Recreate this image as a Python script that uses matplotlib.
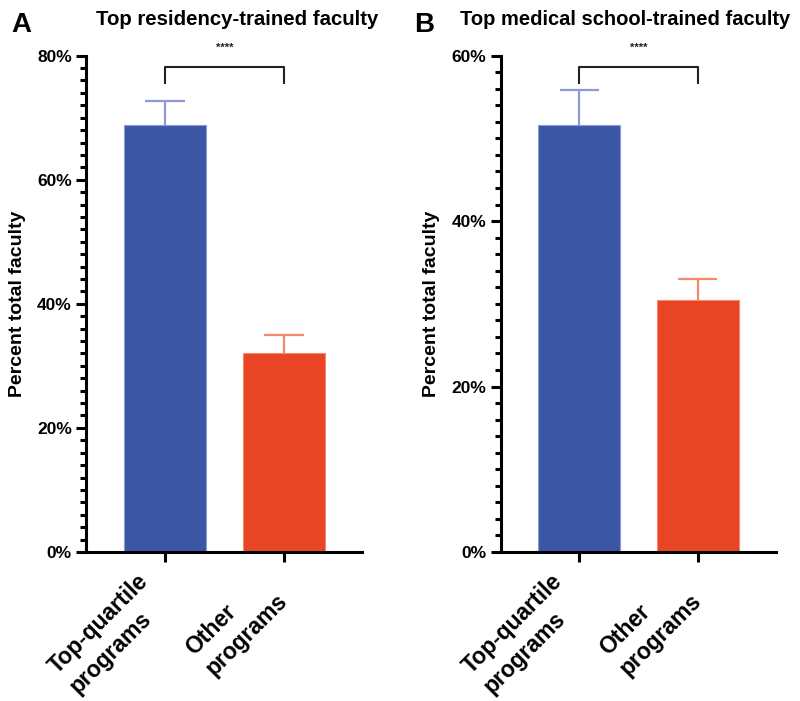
import matplotlib
matplotlib.use("Agg")
import matplotlib.pyplot as plt
import matplotlib.transforms as mtransforms
from matplotlib.ticker import MultipleLocator, FuncFormatter

plt.rcParams['font.family'] = ['Liberation Sans', 'DejaVu Sans']
plt.rcParams['font.weight'] = 'bold'

categories = ["Top-quartile\nprograms", "Other\nprograms"]

# Panel A: top residency-trained faculty
residency_mean = [68.9, 32.1]
residency_sem = [3.8, 2.9]

# Panel B: top medical school-trained faculty
medschool_mean = [51.6, 30.5]
medschool_sem = [4.2, 2.5]

titles = ["Top residency-trained faculty", "Top medical school-trained faculty"]
panel_letters = ["A", "B"]
y_max = [80, 60]
significance = "****"

bar_colors = ["#3C56A6", "#E84525"]
err_colors = ["#8C9BD6", "#F28A6A"]

fig = plt.figure(figsize=(8.0, 7.01), dpi=100)
axes = [fig.add_axes([0.108, 0.2126, 0.345, 0.708]),
        fig.add_axes([0.626, 0.2126, 0.344, 0.708])]

datasets = [(residency_mean, residency_sem), (medschool_mean, medschool_sem)]
cap_half = 0.165

for i, ax in enumerate(axes):
    means, sems = datasets[i]
    x = list(range(len(categories)))
    ax.bar(x, means, width=0.69, color=bar_colors, edgecolor=err_colors,
           linewidth=0.8, zorder=2)
    # upper-only error bars (SEM)
    tops = [m + s for m, s in zip(means, sems)]
    ax.vlines(x, means, tops, colors=err_colors, lw=1.6, zorder=1)
    ax.hlines(tops, [xi - cap_half for xi in x], [xi + cap_half for xi in x],
              colors=err_colors, lw=1.6, zorder=1)

    ax.set_xlim(-0.66, 1.66)
    ax.set_ylim(0, y_max[i])
    ax.yaxis.set_major_locator(MultipleLocator(20))
    ax.yaxis.set_minor_locator(MultipleLocator(2))
    ax.yaxis.set_major_formatter(FuncFormatter(lambda v, p: f"{int(v)}%"))

    for side in ("top", "right"):
        ax.spines[side].set_visible(False)
    for side in ("left", "bottom"):
        ax.spines[side].set_linewidth(2.2)
        ax.spines[side].set_capstyle('projecting')

    ax.tick_params(axis='y', which='major', length=7.5, width=2.2,
                   labelsize=12.5, pad=3)
    ax.tick_params(axis='y', which='minor', length=4.5, width=2.2)
    ax.tick_params(axis='x', which='major', length=7.5, width=2.2, pad=18)

    ax.set_xticks(x)
    ax.set_xticklabels(categories, rotation=45, ha='right', va='center',
                       rotation_mode='anchor', fontsize=16.5,
                       fontweight='bold', multialignment='left',
                       linespacing=1.3)
    shift = mtransforms.ScaledTranslation(-0.10, 0, fig.dpi_scale_trans)
    for lab in ax.get_xticklabels():
        lab.set_transform(lab.get_transform() + shift)
    for lab in ax.get_yticklabels():
        lab.set_fontweight('bold')

    ax.set_ylabel("Percent total faculty", fontsize=14, fontweight='bold',
                  labelpad=8)

    # significance bracket between the two bars
    ym = y_max[i]
    y_top = ym * 0.978
    y_low = ym * 0.944
    ax.plot([0, 0, 1, 1], [y_low, y_top, y_top, y_low], color='#222222',
            lw=1.5, clip_on=False, zorder=3)
    ax.text(0.5, ym * 1.005, significance, ha='center', va='bottom',
            fontsize=8, fontweight='bold', color='#222222', clip_on=False)

# panel titles and letters
fig.text(0.296, 0.972, titles[0], ha='center', va='center', fontsize=14.7,
         fontweight='bold')
fig.text(0.781, 0.972, titles[1], ha='center', va='center', fontsize=14.5,
         fontweight='bold')
fig.text(0.014, 0.964, panel_letters[0], ha='left', va='center', fontsize=20,
         fontweight='bold')
fig.text(0.518, 0.964, panel_letters[1], ha='left', va='center', fontsize=20,
         fontweight='bold')

fig.savefig("out.png", dpi=100)
